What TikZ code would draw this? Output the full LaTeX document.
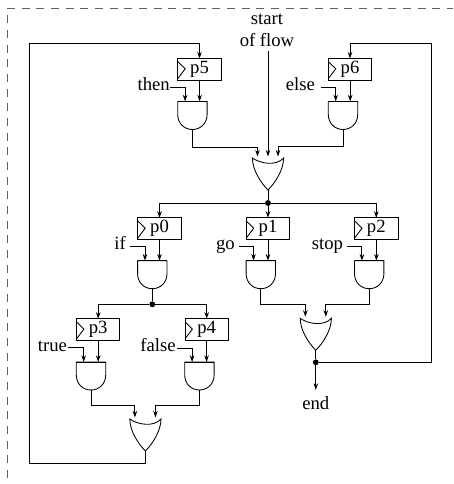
\documentclass[tikz,border=0pt]{standalone}
\usepackage{fontspec}
\setmainfont{Liberation Serif}
\usetikzlibrary{arrows.meta}
\tikzset{
	wire/.style={line width=.7pt},
	gateline/.style={line width=.65pt},
	frameline/.style={line width=.6pt, gray!75!black, dash pattern=on 6pt off 5pt},
	regbox/.style={draw, line width=.7pt, minimum width=32.6pt, minimum height=16.2pt, inner sep=0pt, outer sep=0pt,
		path picture={\draw[gateline] ([yshift=5.8pt]path picture bounding box.west) -- ([xshift=5.6pt,yshift=.4pt]path picture bounding box.west) -- ([yshift=-7pt]path picture bounding box.west);}},
	sig/.style={anchor=east, inner xsep=0pt, inner ysep=0pt, text height=5.6pt, text depth=0pt},
	dot/.style={circle, fill=black, minimum size=4.4pt, inner sep=0pt, outer sep=0pt},
	andgate/.pic={
		\draw[gateline] (-14.7,0) -- (14.7,0) -- (14.7,13) .. controls (14.7,22) and (8,28) .. (0,28) .. controls (-8,28) and (-14.7,22) .. (-14.7,13) -- cycle;
		\draw[wire] (-14.7,0) -- (14.7,0);
		\coordinate (-a) at (-7.3,0);
		\coordinate (-b) at (7.2,0);
		\coordinate (-o) at (0,28);
	},
	orgate/.pic={
		\draw[gateline] (-15.6,0) .. controls (-8,5.5) and (8,8.5) .. (15.6,0) .. controls (15.6,12) and (7,25) .. (0,32) .. controls (-7,25) and (-15.6,12) .. (-15.6,0) -- cycle;
		\coordinate (-a) at (-10.5,-1.5);
		\coordinate (-b) at (0,-1.5);
		\coordinate (-c) at (10,-1.5);
		\coordinate (-o) at (0,32);
	}
}
\begin{document}
\begin{tikzpicture}[x=.75pt, y=-.75pt, >={Stealth[length=5pt,width=3.4pt]}, font=\fontsize{14}{16.3}\selectfont]
	\useasboundingbox (0,0) rectangle (453,484);
	
	% Dashed edge of the frame
	\draw[frameline] (7.5,478) -- (7.5,8) -- (453,8);
	
	% Registers
	\node[regbox] (p5) at (199.5,69.3) {p5};
	\node[regbox] (p6) at (350,69.3) {p6};
	\node[regbox] (p0) at (159.5,228.7) {p0};
	\node[regbox] (p1) at (268,228.7) {p1};
	\node[regbox] (p2) at (376.3,228.7) {p2};
	\node[regbox] (p3) at (98.2,329.6) {p3};
	\node[regbox] (p4) at (206.7,329.6) {p4};
	
	% Gates
	\pic (g5) at (192.4,101.5) {andgate};
	\pic (g6) at (343,101.5) {andgate};
	\pic (g0) at (152.3,260.7) {andgate};
	\pic (g1) at (260.8,260.7) {andgate};
	\pic (g2) at (369.2,260.7) {andgate};
	\pic (g3) at (91,362) {andgate};
	\pic (g4) at (199.4,362) {andgate};
	\pic (orm) at (268,158) {orgate};
	\pic (orr) at (315.8,318.3) {orgate};
	\pic (orl) at (145.4,419) {orgate};
	
	% Signal names
	\node[sig] (then) at (170,87) {then};
	\node[sig, inner xsep=4.2pt] (else) at (320.7,87) {else};
	\node[sig, inner xsep=3pt] (if) at (130,246) {if};
	\node[sig, inner xsep=3pt] (go) at (239,246) {go};
	\node[sig, inner xsep=3pt] (stop) at (347.3,246) {stop};
	\node[sig, inner xsep=.6pt] (true) at (68,347.7) {true};
	\node[sig, inner xsep=.6pt] (false) at (176.7,348) {false};
	\node[align=center, anchor=south, inner xsep=0pt, inner ysep=3pt] (start) at (267,51) {start\\of flow};
	\node[anchor=north, inner xsep=0pt, inner ysep=4.5pt] (end) at (315.8,390) {end};
	
	% Junctions and corners of the feedback loops
	\node[dot] (dm) at (268,203) {};
	\node[dot] (dl) at (152.3,304.3) {};
	\node[dot] (dr) at (315.8,362.3) {};
	\coordinate (lbot) at (29.5,463.3);
	\coordinate (ltop) at (29.5,43.5);
	\coordinate (rbot) at (431.3,362.3);
	\coordinate (rtop) at (431.3,43.5);
	
	% Top of the flow
	\draw[wire,->] (start.south -| orm-b) -- (orm-b);
	\draw[wire,->] (then.east) -| (g5-a);
	\draw[wire,->] (p5.south -| g5-b) -- (g5-b);
	\draw[wire,->] (else.east) -| (g6-a);
	\draw[wire,->] (p6.south -| g6-b) -- (g6-b);
	\draw[wire,->] (g5-o) -- ++(0,17.5) -| (orm-a);
	\draw[wire,->] (g6-o) -- ++(0,16.5) -| (orm-c);
	\draw[wire] (orm-o) -- (dm);
	
	% Middle row
	\draw[wire,->] (dm) -| (p0.north);
	\draw[wire,->] (dm) -- (p1.north);
	\draw[wire,->] (dm) -| (p2.north);
	\draw[wire,->] (if.east) -| (g0-a);
	\draw[wire,->] (p0.south -| g0-b) -- (g0-b);
	\draw[wire,->] (go.east) -| (g1-a);
	\draw[wire,->] (p1.south -| g1-b) -- (g1-b);
	\draw[wire,->] (stop.east) -| (g2-a);
	\draw[wire,->] (p2.south -| g2-b) -- (g2-b);
	\draw[wire] (g0-o) -- (dl);
	\draw[wire,->] (g1-o) -- ++(0,15.6) -| (orr-a);
	\draw[wire,->] (g2-o) -- ++(0,15.6) -| (orr-c);
	
	% Lower row
	\draw[wire,->] (dl) -| (p3.north);
	\draw[wire,->] (dl) -| (p4.north);
	\draw[wire,->] (true.east) -| (g3-a);
	\draw[wire,->] (p3.south -| g3-b) -- (g3-b);
	\draw[wire,->] (false.east) -| (g4-a);
	\draw[wire,->] (p4.south -| g4-b) -- (g4-b);
	\draw[wire,->] (g3-o) -- ++(0,15.3) -| (orl-a);
	\draw[wire,->] (g4-o) -- ++(0,15.3) -| (orl-c);
	
	% Outputs and feedback
	\draw[wire] (orr-o) -- (dr);
	\draw[wire,->] (dr) -- (end.north);
	\draw[wire,->] (dr) -- (rbot) -- (rtop) -| (p6.north);
	\draw[wire,->] (orl-o) |- (lbot) -- (ltop) -| (p5.north);
\end{tikzpicture}
\end{document}
